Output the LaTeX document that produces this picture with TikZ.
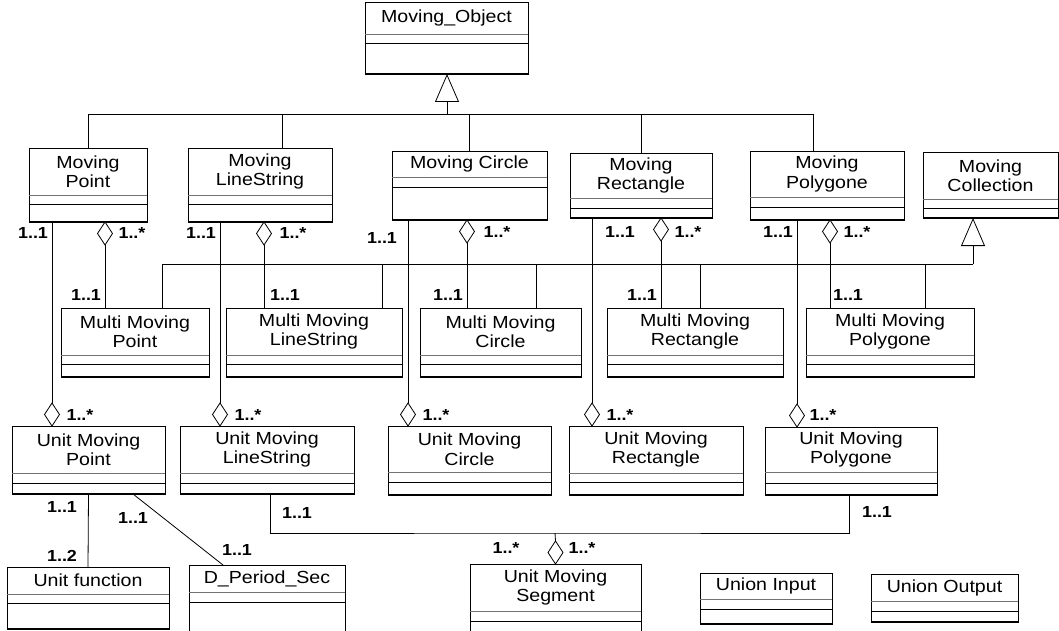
\documentclass[tikz,border=0pt]{standalone}
\usepackage{fontspec}
\setmainfont{Liberation Sans}[FakeStretch=1.12]
\usepackage{tikz}
\usetikzlibrary{arrows.meta,shapes.geometric}

\tikzset{
  cls/.style={draw, line width=0.9pt, inner sep=0pt, outer sep=0pt},
  ttl/.style={inner sep=0pt, align=center, font=\fontsize{17.5}{19.5}\selectfont},
  mult/.style={inner sep=0pt, font=\bfseries\fontsize{16}{18}\selectfont},
  agg/.style={diamond, draw, fill=white, inner sep=0pt, outer sep=0pt,
    minimum width=15pt, minimum height=23pt},
  gen/.style={-{Triangle[open,length=28pt,width=24pt]}},
  divider/.style={draw=black!55},
}
% name, left, top, right, bottom, divider 1, divider 2, title
\newcommand{\umlclass}[8]{%
  \node[cls, anchor=north west, minimum width={(#4-#2)*1pt},
    minimum height={(#5-#3)*1pt}] (#1) at (#2,#3) {};
  \node[ttl] (#1-t) at ({(#2+#4)/2},{(#3+#6)/2}) {#8};
  \draw[divider] (#2,#6) -- (#4,#6);
  \draw (#2,#7) -- (#4,#7);
  \draw[line width=1.5pt] (#1.south west) -- (#1.south east);
}

\begin{document}
\begin{tikzpicture}[x=1pt, y=-1pt, line width=0.8pt]
    \useasboundingbox (0,0) rectangle (1059,631);

    % classes
    \umlclass{mo}{365}{2}{528}{74}{34}{43}{Moving\_Object}
    \umlclass{mpt}{29}{148}{147}{222}{195}{204}{Moving\\Point}
    \umlclass{mls}{188}{148}{332}{222}{195}{204}{Moving\\LineString}
    \umlclass{mci}{392}{151}{547}{220}{177}{187}{Moving Circle}
    \umlclass{mre}{570}{153}{712}{218}{198}{208}{Moving\\Rectangle}
    \umlclass{mpg}{750}{151}{904}{220}{197}{207}{Moving\\Polygone}
    \umlclass{mco}{923}{152}{1058}{218}{199}{208}{Moving\\Collection}

    \umlclass{mmpt}{61}{308}{209}{377}{355}{364}{Multi Moving\\Point}
    \umlclass{mmls}{226}{308}{402}{377}{355}{364}{Multi Moving\\LineString}
    \umlclass{mmci}{420}{308}{581}{377}{355}{364}{Multi Moving\\Circle}
    \umlclass{mmre}{607}{308}{783}{377}{355}{364}{Multi Moving\\Rectangle}
    \umlclass{mmpg}{806}{308}{974}{377}{355}{364}{Multi Moving\\Polygone}

    \umlclass{umpt}{12}{426}{165}{494}{473}{483}{Unit Moving\\Point}
    \umlclass{umls}{180}{426}{354}{494}{473}{483}{Unit Moving\\LineString}
    \umlclass{umci}{388}{426}{551}{495}{472}{482}{Unit Moving\\Circle}
    \umlclass{umre}{569}{426}{743}{495}{473}{482}{Unit Moving\\Rectangle}
    \umlclass{umpg}{765}{427}{937}{495}{472}{483}{Unit Moving\\Polygone}

    \umlclass{uf}{7}{567}{169}{629}{594}{603}{Unit function}
    \umlclass{dps}{189}{565}{345}{645}{592}{602}{D\_Period\_Sec}
    \umlclass{ums}{470}{564}{641}{645}{611}{621}{Unit Moving\\Segment}
    \umlclass{uin}{700}{573}{832}{624}{599}{609}{Union Input}
    \umlclass{uout}{871}{574}{1018}{622}{601}{611}{Union Output}

    % generalisation to Moving_Object
    \coordinate (g0) at (447,114);
    \draw[gen] (g0) -- (g0 |- mo.south);
    \draw (mpt.north) |- (g0);
    \draw ([xshift=22]mls.north) |- (g0);
    \draw (mci.north) |- (g0);
    \draw (mre.north) |- (g0);
    \draw ([xshift=-14]mpg.north) |- (g0);

    % generalisation to Moving Collection
    \coordinate (g1) at (973,264);
    \draw[gen] (g1) -- (g1 |- mco.south);
    \draw ([xshift=27]mmpt.north) |- (g1);
    \draw ([xshift=68]mmls.north) |- (g1);
    \draw ([xshift=35.5]mmci.north) |- (g1);
    \draw ([xshift=5]mmre.north) |- (g1);
    \draw ([xshift=35]mmpg.north) |- (g1);

    % aggregations Moving -> Multi Moving
    \node[agg, anchor=north] (a1) at (105,222) {};
    \node[agg, anchor=north] (a2) at (264,222) {};
    \node[agg, anchor=north] (a3) at (467,220) {};
    \node[agg, anchor=north] (a4) at (661,218) {};
    \node[agg, anchor=north] (a5) at (830,220) {};
    \draw (a1.south) -- (a1.south |- mmpt.north);
    \draw (a2.south) -- (a2.south |- mmls.north);
    \draw (a3.south) -- (a3.south |- mmci.north);
    \draw (a4.south) -- (a4.south |- mmre.north);
    \draw (a5.south) -- (a5.south |- mmpg.north);

    % aggregations Moving -> Unit Moving
    \node[agg, anchor=south] (u1) at (52,426) {};
    \node[agg, anchor=south] (u2) at (220,426) {};
    \node[agg, anchor=south] (u3) at (408,426) {};
    \node[agg, anchor=south] (u4) at (592,426) {};
    \node[agg, anchor=south] (u5) at (797,427) {};
    \draw (u1.north) -- (u1.north |- mpt.south);
    \draw (u2.north) -- (u2.north |- mls.south);
    \draw (u3.north) -- (u3.north |- mci.south);
    \draw (u4.north) -- (u4.north |- mre.south);
    \draw (u5.north) -- (u5.north |- mpg.south);

    % segment
    \coordinate (s0) at (555,533);
    \draw ([xshift=3]umls.south) |- (s0) -| ([xshift=-2]umpg.south);
    \node[agg, anchor=south] (s1) at (ums.north) {};
    \draw (s0) -- (s1.north);

    % unit point
    \draw (umpt.south) -- (uf.north);
    \draw ([xshift=44.5]umpt.south) -- ([xshift=-44]dps.north);

    % multiplicities
    \node[mult] (l1) at (33,233) {1..1};
    \node[mult] (l2) at (132,233) {1..*};
    \node[mult] (l3) at (201,233) {1..1};
    \node[mult] (l4) at (293,233) {1..*};
    \node[mult] (l5) at (382,238) {1..1};
    \node[mult] (l6) at (497,232) {1..*};
    \node[mult] (l7) at (620,232) {1..1};
    \node[mult] (l8) at (688,232) {1..*};
    \node[mult] (l9) at (778,232) {1..1};
    \node[mult] (l10) at (857,232) {1..*};
    \node[mult] (l11) at (86,295) {1..1};
    \node[mult] (l12) at (285,295) {1..1};
    \node[mult] (l13) at (448,295) {1..1};
    \node[mult] (l14) at (642,295) {1..1};
    \node[mult] (l15) at (848,295) {1..1};
    \node[mult] (l16) at (80,415) {1..*};
    \node[mult] (l17) at (248,415) {1..*};
    \node[mult] (l18) at (436,415) {1..*};
    \node[mult] (l19) at (620,415) {1..*};
    \node[mult] (l20) at (823,415) {1..*};
    \node[mult] (l21) at (62,507) {1..1};
    \node[mult] (l22) at (62,556) {1..2};
    \node[mult] (l23) at (133,518) {1..1};
    \node[mult] (l24) at (237,550) {1..1};
    \node[mult] (l25) at (297,513) {1..1};
    \node[mult] (l26) at (877,512) {1..1};
    \node[mult] (l27) at (506,548) {1..*};
    \node[mult] (l28) at (582,548) {1..*};
\end{tikzpicture}
\end{document}
